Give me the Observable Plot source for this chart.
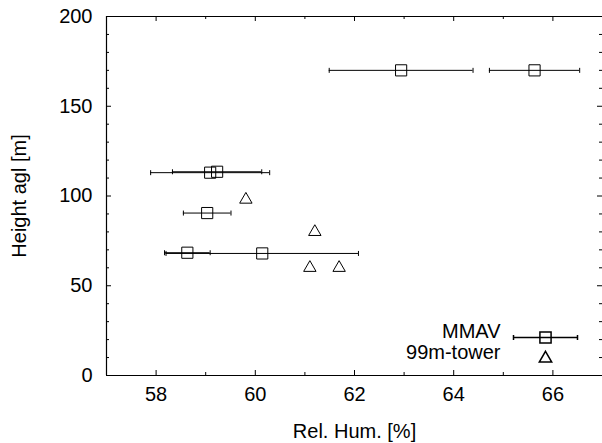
<!DOCTYPE html>
<html><head><meta charset="utf-8">
<script src="https://cdn.jsdelivr.net/npm/d3@7"></script>
<script src="https://cdn.jsdelivr.net/npm/@observablehq/plot@0.6"></script>
<style>
body{margin:0;background:#fff;}
svg{font-family:"Liberation Sans",Arial,sans-serif;}
</style>
</head><body><div id="chart"></div>
<script>
// MMAV measurements (mean RH, height, half error-bar width)
const mmavX   = [62.94, 65.63, 59.09, 59.23, 59.03, 58.63, 60.14];
const mmavY   = [170, 170, 113, 113.5, 90.5, 68.4, 68];
const mmavErr = [1.45, 0.91, 1.20, 0.90, 0.48, 0.46, 1.94];
// 99m-tower measurements
const towerX = [59.81, 61.20, 61.10, 61.69];
const towerY = [98, 80, 60, 60];
// axis ticks
const xDomain = [57, 67];
const yDomain = [0, 200];
const xTicks = [58, 60, 62, 64, 66];
const xMinor = [57, 59, 61, 63, 65, 67];
const yTicks = [0, 50, 100, 150, 200];
const yMinor = [10, 20, 30, 40, 60, 70, 80, 90, 110, 120, 130, 140, 160, 170, 180, 190];
const legendLabels = ["MMAV", "99m-tower"];
const xLabel = "Rel. Hum. [%]";
const yLabel = "Height agl [m]";

const mmav = mmavX.map((x, i) => ({x, y: mmavY[i], e: mmavErr[i]}));
const tower = towerX.map((x, i) => ({x, y: towerY[i]}));
const caps = mmav.flatMap(d => [{x: d.x - d.e, y: d.y}, {x: d.x + d.e, y: d.y}]);

const vline = {draw(ctx, size) { const h = Math.sqrt(size / Math.PI); ctx.moveTo(0, -h); ctx.lineTo(0, h); }};
const tri = {draw(ctx, size) {
  const a = Math.sqrt(size / Math.PI); const h = a * 1.732;
  ctx.moveTo(0, -h * 2 / 3); ctx.lineTo(a, h / 3); ctx.lineTo(-a, h / 3); ctx.closePath();
}};
const errSym = {draw(ctx, size) {
  const L = 32, c = 2.5;
  ctx.moveTo(-L, 0); ctx.lineTo(L, 0);
  ctx.moveTo(-L, -c); ctx.lineTo(-L, c);
  ctx.moveTo(L, -c); ctx.lineTo(L, c);
}};

const W = 602, H = 443, mL = 106, mR = 0, mT = 16, mB = 68;
const ph = H - mT - mB, pw = W - mL - mR;

const plot = Plot.plot({
  width: W, height: H,
  marginLeft: mL, marginRight: mR, marginTop: mT, marginBottom: mB,
  style: {fontFamily: "Liberation Sans, Arial, sans-serif", fontSize: "20px", color: "#000", background: "#fff"},
  x: {domain: xDomain},
  y: {domain: yDomain},
  marks: [
    // inward ticks on all four sides
    Plot.tickX(xTicks, {x: d => d, insetTop: ph - 5, stroke: "#000"}),
    Plot.tickX(xTicks, {x: d => d, insetBottom: ph - 5, stroke: "#000"}),
    Plot.tickX(xMinor, {x: d => d, insetTop: ph - 3, stroke: "#000"}),
    Plot.tickX(xMinor, {x: d => d, insetBottom: ph - 3, stroke: "#000"}),
    Plot.tickY(yTicks, {y: d => d, insetRight: pw - 5, stroke: "#000"}),
    Plot.tickY(yTicks, {y: d => d, insetLeft: pw - 5, stroke: "#000"}),
    Plot.tickY(yMinor, {y: d => d, insetRight: pw - 3, stroke: "#000"}),
    Plot.tickY(yMinor, {y: d => d, insetLeft: pw - 3, stroke: "#000"}),
    Plot.axisX({ticks: xTicks, tickSize: 0, tickPadding: 11, label: null, fontSize: 20}),
    Plot.axisY({ticks: yTicks, tickSize: 0, tickPadding: 14, label: null, fontSize: 20}),
    Plot.text([xLabel], {frameAnchor: "bottom", lineAnchor: "middle", dy: 56, fontSize: 20}),
    Plot.text([yLabel], {frameAnchor: "left", textAnchor: "middle", lineAnchor: "middle", dx: -87, rotate: -90, fontSize: 20}),
    // MMAV error bars
    Plot.ruleY(mmav, {y: "y", x1: d => d.x - d.e, x2: d => d.x + d.e, stroke: "#000", strokeWidth: 1}),
    Plot.dot(caps, {x: "x", y: "y", symbol: vline, r: 2.5, stroke: "#000", strokeWidth: 1}),
    Plot.dot(mmav, {x: "x", y: "y", symbol: "square", r: 6.3, stroke: "#000", fill: "none", strokeWidth: 1}),
    Plot.dot(tower, {x: "x", y: "y", symbol: tri, r: 6.2, stroke: "#000", fill: "none", strokeWidth: 1}),
    // legend
    Plot.text([legendLabels[0]], {frameAnchor: "bottom-right", textAnchor: "end", dx: -102, dy: -38, fontSize: 20}),
    Plot.text([legendLabels[1]], {frameAnchor: "bottom-right", textAnchor: "end", dx: -102, dy: -17, fontSize: 20}),
    Plot.dot([legendLabels[0]], {frameAnchor: "bottom-right", dx: -57, dy: -38, symbol: errSym, r: 3, stroke: "#000"}),
    Plot.dot([legendLabels[0]], {frameAnchor: "bottom-right", dx: -57, dy: -38, symbol: "square", r: 6.3, stroke: "#000", fill: "none"}),
    Plot.dot([legendLabels[1]], {frameAnchor: "bottom-right", dx: -57, dy: -17, symbol: tri, r: 6.2, stroke: "#000", fill: "none"}),
    // frame: left, top, bottom (right edge falls outside the picture)
    Plot.ruleX([xDomain[0]], {stroke: "#000", strokeWidth: 1.2}),
    Plot.ruleY(yDomain, {stroke: "#000", strokeWidth: 1.2})
  ]
});
document.getElementById("chart").appendChild(plot);
</script>
</body></html>
